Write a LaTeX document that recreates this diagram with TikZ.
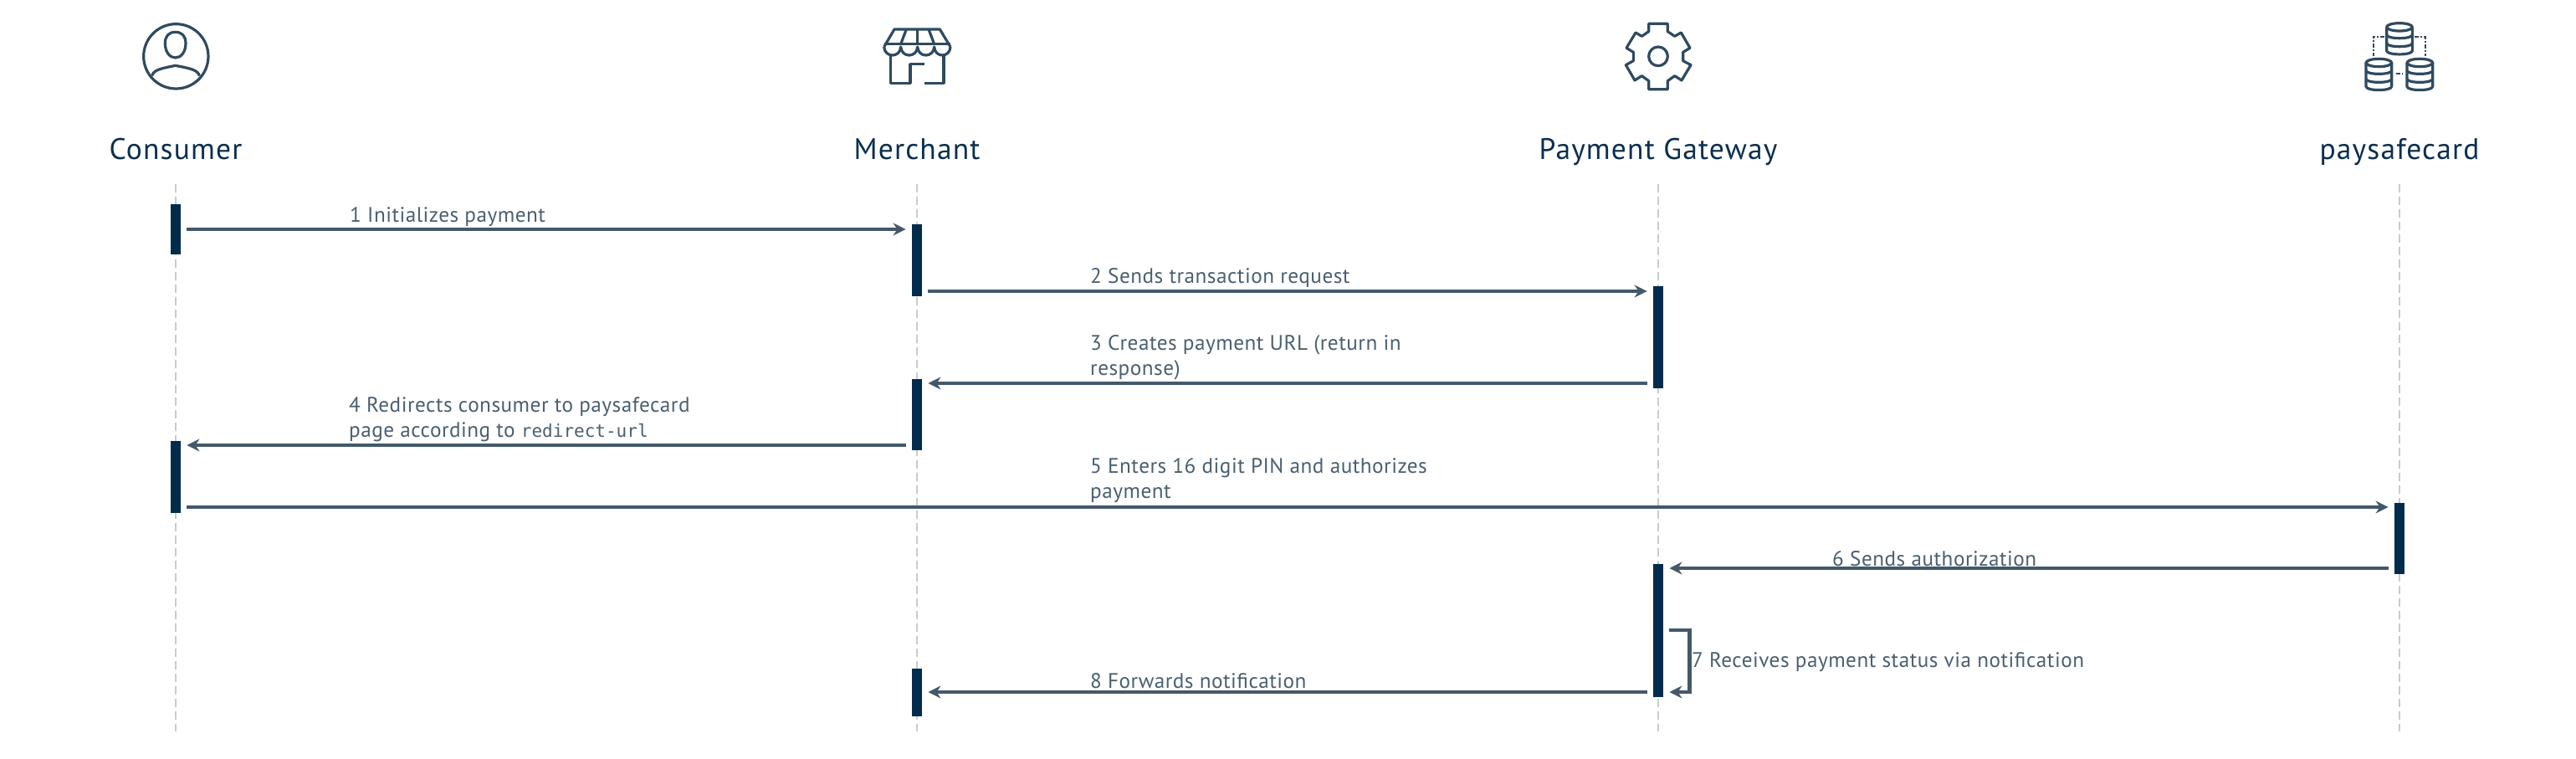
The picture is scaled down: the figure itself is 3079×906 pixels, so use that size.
\documentclass[tikz,border=0pt]{standalone}
\usepackage{fontspec}
\setmainfont[LetterSpace=2]{PT Sans}
\newfontfamily\headfont[LetterSpace=3.3]{PT Sans}
\newfontfamily\codefont{DejaVu Sans Mono}
\usetikzlibrary{arrows.meta}
\definecolor{barc}{HTML}{022B4C}
\definecolor{headc}{HTML}{0B2F4F}
\definecolor{msgc}{HTML}{43596B}
\definecolor{labc}{HTML}{4A5F70}
\definecolor{iconc}{HTML}{2F4A60}
\definecolor{lifec}{HTML}{C6CCD2}
\tikzset{
  headtext/.style={anchor=base,inner sep=0pt,text=headc,font=\headfont\fontsize{35.5}{35.5}\selectfont},
  lab/.style={anchor=base west,inner sep=0pt,text=labc,align=left,font=\fontsize{25.2}{30}\selectfont},
  bar/.style={fill=barc,draw=none,inner sep=0pt,minimum width=12.5pt},
  life/.style={draw=lifec,line width=1.3pt,dash pattern=on 10pt off 5pt},
  msg/.style={draw=msgc,line width=4.2pt,-{Stealth[length=15pt,width=15pt,inset=5pt]}},
  ic/.style={draw=iconc,line width=3.2pt,line join=round},
}
\newcommand{\cyl}[2]{%
  \begin{scope}[shift={(#1,#2)}]
    \draw[ic] (0,0) ellipse[x radius=46,y radius=14];
    \draw[ic] (-46,0) -- (-46,85) .. controls (-46,102) and (46,102) .. (46,85) -- (46,0);
    \draw[ic] (-46,28) .. controls (-46,44) and (46,44) .. (46,28);
    \draw[ic] (-46,58) .. controls (-46,74) and (46,74) .. (46,58);
  \end{scope}}
\begin{document}
\begin{tikzpicture}[x=1pt,y=-1pt]
\useasboundingbox (0,0) rectangle (3079,906);
\fill[white] (0,0) rectangle (3079,906);
% head labels
\node[headtext] (hc) at (210,190) {Consumer};
\node[headtext] (hm) at (1096,190) {Merchant};
\node[headtext] (hg) at (1982,190) {Payment Gateway};
\node[headtext] (hp) at (2868,190) {paysafecard};
\coordinate (ytop) at (0,220);
\coordinate (ybot) at (0,874);
\foreach \h in {hc,hm,hg,hp}
  \draw[life] (\h |- ytop) -- (\h |- ybot);
% bars
\node[bar,minimum height=60pt]  (c1) at (210,274) {};
\node[bar,minimum height=86pt]  (m1) at (1096,311) {};
\node[bar,minimum height=122pt] (g1) at (1982,403) {};
\node[bar,minimum height=85pt]  (m2) at (1096,495.5) {};
\node[bar,minimum height=86pt]  (c2) at (210,570) {};
\node[bar,minimum height=85pt]  (p1) at (2868,643.5) {};
\node[bar,minimum height=159pt] (g2) at (1982,753.5) {};
\node[bar,minimum height=57pt]  (m3) at (1096,827.5) {};
% message levels
\coordinate (y1) at (0,274);
\coordinate (y2) at (0,348);
\coordinate (y3) at (0,458);
\coordinate (y4) at (0,532);
\coordinate (y5) at (0,606);
\coordinate (y6) at (0,679);
\coordinate (y7) at (0,753);
\coordinate (y8) at (0,827);
\draw[msg] ([xshift=7pt]c1.east |- y1) -- ([xshift=-7pt]m1.west |- y1);
\draw[msg] ([xshift=7pt]m1.east |- y2) -- ([xshift=-7pt]g1.west |- y2);
\draw[msg] ([xshift=-7pt]g1.west |- y3) -- ([xshift=7pt]m2.east |- y3);
\draw[msg] ([xshift=-7pt]m2.west |- y4) -- ([xshift=7pt]c2.east |- y4);
\draw[msg] ([xshift=7pt]c2.east |- y5) -- ([xshift=-7pt]p1.west |- y5);
\draw[msg] ([xshift=-7pt]p1.west |- y6) -- ([xshift=7pt]g2.east |- y6);
\draw[msg] ([xshift=7pt]g2.east |- y7) -- ++(24,0) |- ([xshift=7pt]g2.east |- y8);
\draw[msg] ([xshift=-7pt]g2.west |- y8) -- ([xshift=7pt]m3.east |- y8);
% labels
\node[lab] (l1) at (418,265) {1 Initializes payment};
\node[lab] (l2) at (1303,338) {2 Sends transaction request};
\node[lab] (l3) at (1303,448) {3 Creates payment URL (return in\\response)};
\node[lab] (l4) at (417,522) {4 Redirects consumer to paysafecard\\page according to {\codefont\fontsize{21}{30}\selectfont redirect-url}};
\node[lab] (l5) at (1303,595) {5 Enters 16 digit PIN and authorizes\\payment};
\node[lab] (l6) at (2190,676) {6 Sends authorization};
\node[lab] (l7) at (2022,797) {7 Receives payment status via notification};
\node[lab] (l8) at (1303,822) {8 Forwards notification};
% consumer icon
\begin{scope}[shift={(100,0)},x=0.3333pt,y=-0.3333pt]
  \draw[ic] (331,202) circle[radius=116];
  \draw[ic] (329,115) .. controls (305,115) and (292,130) .. (292,155)
     .. controls (292,185) and (308,207) .. (329,207)
     .. controls (350,207) and (366,185) .. (366,155)
     .. controls (366,130) and (353,115) .. (329,115) -- cycle;
  \draw[ic] (245,272) .. controls (250,250) and (280,245) .. (329,235)
     .. controls (380,245) and (410,250) .. (415,272);
\end{scope}
% merchant icon
\begin{scope}[shift={(1000,0)},x=0.3333pt,y=-0.3333pt]
  \draw[ic] (170,168) -- (207,105) -- (370,105) -- (408,168);
  \draw[ic] (170,158) -- (408,158);
  \draw[ic] (250,105) -- (230,158);
  \draw[ic] (290,105) -- (290,158);
  \draw[ic] (330,105) -- (350,158);
  \draw[ic] (170,168) .. controls (172,208) and (228,208) .. (230,168)
     .. controls (232,208) and (288,208) .. (290,168)
     .. controls (292,208) and (348,208) .. (350,168)
     .. controls (352,208) and (406,208) .. (408,168);
  \draw[ic] (193,198) -- (193,298) -- (264,298) -- (264,230) -- (316,230);
  \draw[ic] (316,298) -- (384,298) -- (384,198);
\end{scope}
% gateway icon
\begin{scope}[shift={(1900,0)},x=0.3333pt,y=-0.3333pt]
  \draw[ic] (212,85) -- (280,85) -- (280,113) -- (305,130) -- (328,117) -- (360,172)
    -- (335,187) -- (335,218) -- (363,233) -- (330,288) -- (305,272) -- (280,290)
    -- (280,320) -- (212,320) -- (212,290) -- (187,272) -- (162,288) -- (130,233)
    -- (157,218) -- (157,187) -- (132,172) -- (165,117) -- (187,130) -- (212,113) -- cycle;
  \draw[ic] (246,202) circle[radius=34];
\end{scope}
% paysafecard icon
\begin{scope}[shift={(2780,0)},x=0.3333pt,y=-0.3333pt]
  \cyl{264}{97}
  \cyl{190}{225}
  \cyl{337}{225}
  \draw[iconc,line width=2.2pt,dash pattern=on 5pt off 2pt on 2pt off 2pt] (210,131) -- (170,131) -- (170,202);
  \draw[iconc,line width=2.2pt,dash pattern=on 5pt off 2pt on 2pt off 2pt] (318,131) -- (357,131) -- (357,202);
  \draw[iconc,line width=2.2pt,dash pattern=on 5pt off 2pt on 2pt off 2pt] (252,263) -- (276,263);
\end{scope}
\end{tikzpicture}
\end{document}
